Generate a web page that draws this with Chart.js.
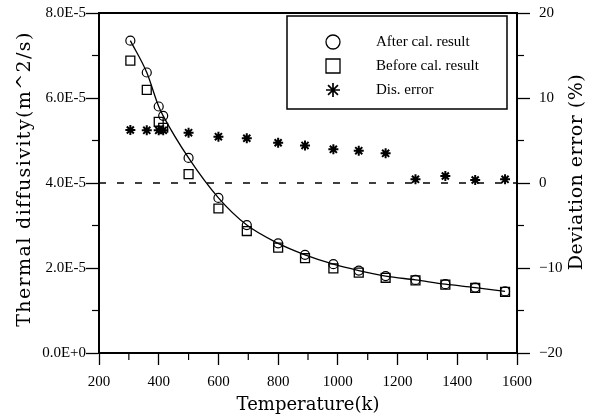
<!DOCTYPE html>
<html>
<head>
<meta charset="utf-8">
<script src="https://cdn.jsdelivr.net/npm/chart.js@4.4.1/dist/chart.umd.min.js"></script>
<style>
  html, body { margin: 0; padding: 0; background: #fff; }
  #wrap { width: 595px; height: 416px; }
</style>
</head>
<body>
<div id="wrap"><canvas id="myChart" width="595" height="416"></canvas></div>
<script>
/* ~~~~~~~~~~ DATA ~~~~~~~~~~ */

const temperatures = [305, 360, 400, 415, 500, 600, 695, 800, 890, 985, 1070, 1160, 1260, 1360, 1460, 1560];
// thermal diffusivity, m^2/s
const afterCal = [7.35e-5, 6.60e-5, 5.80e-5, 5.58e-5, 4.59e-5, 3.65e-5, 3.01e-5, 2.58e-5, 2.31e-5, 2.09e-5, 1.94e-5, 1.81e-5, 1.72e-5, 1.62e-5, 1.54e-5, 1.45e-5];
const beforeCal = [6.88e-5, 6.19e-5, 5.44e-5, 5.30e-5, 4.21e-5, 3.40e-5, 2.87e-5, 2.48e-5, 2.23e-5, 1.99e-5, 1.89e-5, 1.77e-5, 1.71e-5, 1.61e-5, 1.53e-5, 1.44e-5];
// deviation error, %
const disError = [6.24, 6.2, 6.2, 6.2, 5.92, 5.45, 5.26, 4.74, 4.42, 3.96, 3.8, 3.49, 0.43, 0.82, 0.35, 0.43];
const zeroLine = [200, 1600];

const xTickValues = [200, 400, 600, 800, 1000, 1200, 1400, 1600];
const xTickLabels = ['200', '400', '600', '800', '1000', '1200', '1400', '1600'];
const leftTickValues = [0, 2e-5, 4e-5, 6e-5, 8e-5];
const leftTickLabels = ['0.0E+0', '2.0E-5', '4.0E-5', '6.0E-5', '8.0E-5'];
const rightTickValues = [-20, -10, 0, 10, 20];
const rightTickLabels = ['\u221220', '\u221210', '0', '10', '20'];

const legendLabels = ['After cal. result', 'Before cal. result', 'Dis. error'];

/* ~~~~~~~~~~ HELPERS ~~~~~~~~~~ */

const serif = '"Liberation Serif", "Times New Roman", serif';
const wideSerif = '"DejaVu Serif", serif';

const toPoints = (xs, ys) => xs.map((x, i) => ({ x: x, y: ys[i] }));

const setTicks = (values) => (scale) => {
  scale.ticks = values.map((v) => ({ value: v }));
};

// pin a vertical axis width and stop its end labels from pushing the plot area in
const fitVertical = (width) => (scale) => {
  scale.width = width;
  scale.paddingTop = 0;
  scale.paddingBottom = 0;
};

function drawMarker(ctx, style, x, y, r) {
  ctx.beginPath();
  if (style === 'circle') {
    ctx.arc(x, y, r, 0, Math.PI * 2);
  } else if (style === 'rect') {
    ctx.rect(x - r, y - r, r * 2, r * 2);
  } else {
    for (let a = 0; a < 4; a++) {
      const ang = a * Math.PI / 4;
      ctx.moveTo(x - r * Math.cos(ang), y - r * Math.sin(ang));
      ctx.lineTo(x + r * Math.cos(ang), y + r * Math.sin(ang));
    }
  }
  ctx.stroke();
}

function drawVerticalTitle(ctx, text, x, y, size, spacing) {
  ctx.save();
  ctx.fillStyle = '#000';
  ctx.font = size + 'px ' + wideSerif;
  ctx.letterSpacing = spacing + 'px';
  ctx.textAlign = 'center';
  ctx.textBaseline = 'middle';
  ctx.translate(x, y);
  ctx.rotate(-Math.PI / 2);
  ctx.fillText(text, 0, 0);
  ctx.restore();
}

/* ~~~~~~~~~~ PLUGINS ~~~~~~~~~~ */

const frameExtras = {
  id: 'frameExtras',
  afterDraw(chart) {
    const { ctx, chartArea, scales } = chart;
    ctx.save();
    ctx.strokeStyle = '#000';

    // top edge of the frame
    ctx.lineWidth = 2;
    ctx.beginPath();
    ctx.moveTo(chartArea.left - 1, chartArea.top);
    ctx.lineTo(chartArea.right + 1, chartArea.top);
    ctx.stroke();

    // minor ticks halfway between the labelled ones
    ctx.lineWidth = 1.2;
    const minor = (vals) => vals.slice(1).map((v, i) => (v + vals[i]) / 2);
    minor(xTickValues).forEach((v) => {
      const px = scales.x.getPixelForValue(v);
      ctx.beginPath();
      ctx.moveTo(px, chartArea.bottom);
      ctx.lineTo(px, chartArea.bottom + 7);
      ctx.stroke();
    });
    minor(leftTickValues).forEach((v) => {
      const py = scales.y.getPixelForValue(v);
      ctx.beginPath();
      ctx.moveTo(chartArea.left, py);
      ctx.lineTo(chartArea.left - 7, py);
      ctx.stroke();
    });
    minor(rightTickValues).forEach((v) => {
      const py = scales.y1.getPixelForValue(v);
      ctx.beginPath();
      ctx.moveTo(chartArea.right, py);
      ctx.lineTo(chartArea.right + 7, py);
      ctx.stroke();
    });
    ctx.restore();

    // axis titles, both reading bottom to top
    const midY = (chartArea.top + chartArea.bottom) / 2;
    drawVerticalTitle(ctx, 'Thermal diffusivity(m^2/s)', 25, midY - 4, 19, 1.4);
    drawVerticalTitle(ctx, 'Deviation error (%)', 577, midY - 11, 19, 0.5);

    // legend box
    ctx.save();
    ctx.strokeStyle = '#000';
    ctx.fillStyle = '#000';
    ctx.lineWidth = 1.5;
    ctx.strokeRect(287, 16, 220, 93);
    const styles = ['circle', 'rect', 'star'];
    ctx.font = '15px ' + serif;
    ctx.textAlign = 'left';
    ctx.textBaseline = 'middle';
    legendLabels.forEach((label, i) => {
      const y = 42 + i * 24;
      ctx.lineWidth = i === 2 ? 1.7 : 1.3;
      drawMarker(ctx, styles[i], 333, y, 7);
      ctx.fillText(label, 376, y);
    });
    ctx.restore();
  }
};

/* ~~~~~~~~~~ CHART ~~~~~~~~~~ */

const ctx = document.getElementById('myChart').getContext('2d');

const chart = new Chart(ctx, {
  type: 'scatter',
  data: {
    datasets: [
      {
        label: legendLabels[0],
        data: toPoints(temperatures, afterCal),
        yAxisID: 'y',
        showLine: true,
        cubicInterpolationMode: 'monotone',
        borderColor: '#000',
        borderWidth: 1.3,
        pointStyle: 'circle',
        pointRadius: 4.5,
        pointBorderWidth: 1.2,
        pointBackgroundColor: 'rgba(0,0,0,0)',
        pointBorderColor: '#000',
      },
      {
        label: legendLabels[1],
        data: toPoints(temperatures, beforeCal),
        yAxisID: 'y',
        pointStyle: 'rect',
        pointRadius: 6.3,
        pointBorderWidth: 1.3,
        pointBackgroundColor: 'rgba(0,0,0,0)',
        pointBorderColor: '#000',
      },
      {
        label: legendLabels[2],
        data: toPoints(temperatures, disError),
        yAxisID: 'y1',
        pointStyle: 'star',
        pointRadius: 5,
        pointBorderWidth: 2,
        pointBorderColor: '#000',
      },
      {
        label: 'zero',
        data: toPoints(zeroLine, [0, 0]),
        yAxisID: 'y1',
        showLine: true,
        borderColor: '#000',
        borderWidth: 1.4,
        borderDash: [7, 11],
        pointRadius: 0,
      },
    ],
  },
  options: {
    responsive: false,
    animation: false,
    devicePixelRatio: 1,
    layout: { padding: { top: 13, left: 0, right: 0, bottom: 0 } },
    plugins: {
      legend: { display: false },
      tooltip: { enabled: false },
    },
    scales: {
      x: {
        type: 'linear',
        min: 200,
        max: 1600,
        afterBuildTicks: setTicks(xTickValues),
        afterFit: (scale) => { scale.height = 63; },
        border: { display: true, color: '#000', width: 2 },
        grid: { drawOnChartArea: false, drawTicks: true, tickLength: 12, tickColor: '#000', tickWidth: 1.3 },
        ticks: {
          color: '#000',
          padding: 8,
          maxRotation: 0,
          font: { family: serif, size: 15 },
          callback: (v, i) => xTickLabels[i],
        },
        title: {
          display: true,
          text: 'Temperature(k)',
          color: '#000',
          font: { family: wideSerif, size: 18 },
          padding: { top: 0, bottom: 0 },
        },
      },
      y: {
        type: 'linear',
        position: 'left',
        min: 0,
        max: 8e-5,
        afterBuildTicks: setTicks(leftTickValues),
        afterFit: fitVertical(99),
        border: { display: true, color: '#000', width: 2 },
        grid: { drawOnChartArea: false, drawTicks: true, tickLength: 13, tickColor: '#000', tickWidth: 1.3 },
        ticks: {
          color: '#000',
          padding: 0,
          font: { family: serif, size: 15 },
          callback: (v, i) => leftTickLabels[i],
        },
        title: { display: false },
      },
      y1: {
        type: 'linear',
        position: 'right',
        min: -20,
        max: 20,
        afterBuildTicks: setTicks(rightTickValues),
        afterFit: fitVertical(78),
        border: { display: true, color: '#000', width: 2 },
        grid: { drawOnChartArea: false, drawTicks: true, tickLength: 13, tickColor: '#000', tickWidth: 1.3 },
        ticks: {
          color: '#000',
          padding: 9,
          font: { family: serif, size: 15 },
          callback: (v, i) => rightTickLabels[i],
        },
        title: { display: false },
      },
    },
  },
  plugins: [frameExtras],
});
</script>
</body>
</html>
